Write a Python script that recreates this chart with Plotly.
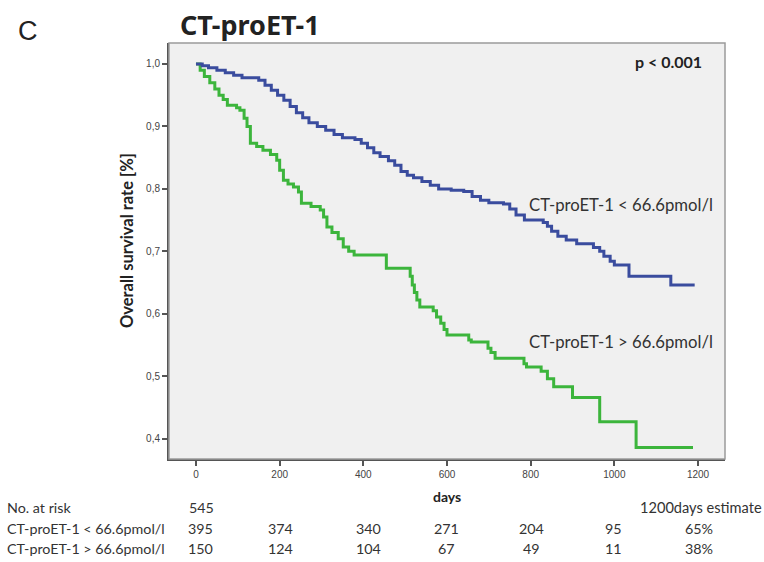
import plotly.graph_objects as go

# --- data -------------------------------------------------------------
days_low = [0, 15, 30, 50, 70, 90, 110, 150, 165, 180, 195, 210, 225, 240, 255, 270,
            290, 310, 330, 350, 380, 395, 410, 425, 440, 460, 475, 490, 505, 520, 540,
            560, 580, 610, 640, 660, 680, 700, 735, 750, 765, 785, 830, 840, 850, 865,
            885, 910, 950, 965, 975, 990, 1000, 1035, 1135, 1192]
surv_low = [1.0, 0.997, 0.994, 0.99, 0.986, 0.982, 0.978, 0.974, 0.966, 0.958, 0.95,
            0.942, 0.932, 0.922, 0.914, 0.906, 0.9, 0.894, 0.887, 0.882, 0.879, 0.873,
            0.866, 0.858, 0.852, 0.845, 0.838, 0.828, 0.822, 0.818, 0.812, 0.806, 0.8,
            0.798, 0.796, 0.788, 0.782, 0.778, 0.776, 0.768, 0.758, 0.75, 0.746, 0.74,
            0.732, 0.724, 0.718, 0.712, 0.706, 0.7, 0.692, 0.684, 0.678, 0.66, 0.646, 0.646]

days_high = [0, 10, 20, 33, 45, 55, 65, 75, 97, 105, 115, 122, 130, 145, 160, 178, 193,
             200, 209, 220, 233, 245, 252, 275, 297, 305, 313, 325, 340, 352, 365, 378,
             455, 512, 517, 522, 528, 535, 567, 575, 585, 593, 600, 652, 658, 698, 705,
             715, 784, 790, 825, 840, 855, 900, 965, 1052, 1188]
surv_high = [1.0, 0.99, 0.98, 0.97, 0.96, 0.95, 0.943, 0.934, 0.93, 0.926, 0.913, 0.9,
             0.873, 0.868, 0.862, 0.855, 0.846, 0.83, 0.814, 0.808, 0.803, 0.795, 0.777,
             0.772, 0.766, 0.755, 0.739, 0.73, 0.72, 0.707, 0.7, 0.694, 0.673, 0.66,
             0.646, 0.634, 0.622, 0.611, 0.605, 0.595, 0.585, 0.575, 0.566, 0.558, 0.555,
             0.545, 0.538, 0.529, 0.52, 0.515, 0.508, 0.496, 0.483, 0.466, 0.427, 0.386,
             0.386]

label_low = "CT-proET-1 < 66.6pmol/l"
label_high = "CT-proET-1 > 66.6pmol/l"

risk_days = [0, 200, 400, 600, 800, 1000]
risk_low = [395, 374, 340, 271, 204, 95]
risk_high = [150, 124, 104, 67, 49, 11]
risk_total = 545
estimate_low = "65%"
estimate_high = "38%"

x_ticks = [0, 200, 400, 600, 800, 1000, 1200]
y_ticks = [0.4, 0.5, 0.6, 0.7, 0.8, 0.9, 1.0]

# --- figure -----------------------------------------------------------
BLUE = "#3a4c9e"
GREEN = "#3cb53c"
FONT = "Lato"

fig = go.Figure()
fig.add_trace(go.Scatter(x=days_high, y=surv_high, mode="lines", line_shape="hv",
                         line=dict(color=GREEN, width=3), name=label_high))
fig.add_trace(go.Scatter(x=days_low, y=surv_low, mode="lines", line_shape="hv",
                         line=dict(color=BLUE, width=3), name=label_low))

W, H = 764, 562
L, R, T, B = 169, 39, 43, 103
ph = H - T - B


def py(pix):
    """pixel y -> paper y"""
    return (H - B - pix) / ph


def px(pix):
    return (pix - L) / (W - L - R)


ann = []
ann.append(dict(text="C", x=px(16), y=py(31), xref="paper", yref="paper",
                xanchor="left", yanchor="middle", showarrow=False,
                font=dict(family="Liberation Sans", size=27, color="#222")))
ann.append(dict(text="<b>CT-proET-1</b>", x=px(250), y=py(25), xref="paper", yref="paper",
                xanchor="center", yanchor="middle", showarrow=False,
                font=dict(family="Noto Sans", size=27, color="#222")))
ann.append(dict(text="<b>p < 0.001</b>", x=px(704), y=py(62), xref="paper", yref="paper",
                xanchor="right", yanchor="middle", showarrow=False,
                font=dict(family=FONT, size=16, color="#222")))
ann.append(dict(text=label_low, x=px(527), y=py(205), xref="paper", yref="paper",
                xanchor="left", yanchor="middle", showarrow=False,
                font=dict(family=FONT, size=16.7, color="#333")))
ann.append(dict(text=label_high, x=px(527), y=py(342), xref="paper", yref="paper",
                xanchor="left", yanchor="middle", showarrow=False,
                font=dict(family=FONT, size=16.7, color="#333")))
ann.append(dict(text="<b>days</b>", x=px(447), y=py(497), xref="paper", yref="paper",
                xanchor="center", yanchor="middle", showarrow=False,
                font=dict(family=FONT, size=14, color="#222")))
ann.append(dict(text="<b>Overall survival rate [%]</b>", x=px(127), y=py(241),
                xref="paper", yref="paper", xanchor="center", yanchor="middle",
                textangle=-90, showarrow=False,
                font=dict(family=FONT, size=16.5, color="#222")))

# at-risk table
row_y = [507, 528, 548]
tfont = dict(family=FONT, size=14.3, color="#333")
for txt, yy in zip(["No. at risk", label_low, label_high], row_y):
    ann.append(dict(text=txt, x=px(5), y=py(yy), xref="paper", yref="paper",
                    xanchor="left", yanchor="middle", showarrow=False, font=tfont))
ann.append(dict(text=str(risk_total), x=px(187), y=py(row_y[0]), xref="paper", yref="paper",
                xanchor="left", yanchor="middle", showarrow=False, font=tfont))
col_px = [200, 280, 368, 446, 531, 613]
for d, a, b, cx in zip(risk_days, risk_low, risk_high, col_px):
    for v, yy in ((a, row_y[1]), (b, row_y[2])):
        ann.append(dict(text=str(v), x=px(cx), y=py(yy), xref="paper", yref="paper",
                        xanchor="center", yanchor="middle", showarrow=False, font=tfont))
ann.append(dict(text="1200days estimate", x=px(701), y=py(row_y[0]), xref="paper",
                yref="paper", xanchor="center", yanchor="middle", showarrow=False,
                font=dict(family=FONT, size=14.6, color="#333")))
for v, yy in ((estimate_low, row_y[1]), (estimate_high, row_y[2])):
    ann.append(dict(text=v, x=px(699), y=py(yy), xref="paper", yref="paper",
                    xanchor="center", yanchor="middle", showarrow=False, font=tfont))

tickfont = dict(family="Liberation Sans", size=10, color="#444")
fig.update_layout(
    width=W, height=H,
    margin=dict(l=L, r=R, t=T, b=B, pad=0),
    paper_bgcolor="white",
    plot_bgcolor="#f0f0f0",
    showlegend=False,
    separators=",.",
    annotations=ann,
    shapes=[dict(type="rect", xref="paper", yref="paper", x0=0, x1=1, y0=0, y1=1,
                 line=dict(color="#9a9a9a", width=1.5), layer="above")],
    xaxis=dict(range=[-64.5, 1264.5], tickvals=x_ticks, showgrid=False, zeroline=False,
               showline=True, linecolor="#555", linewidth=2, ticks="outside",
               ticklen=5, tickwidth=1.5, tickcolor="#555", tickfont=tickfont),
    yaxis=dict(range=[0.3675, 1.0336], tickvals=y_ticks, tickformat=".1f",
               showgrid=False, zeroline=False, showline=True, linecolor="#555",
               linewidth=2, ticks="outside", ticklen=5, tickwidth=1.5,
               tickcolor="#555", tickfont=tickfont),
)

fig.write_html("out.html")
